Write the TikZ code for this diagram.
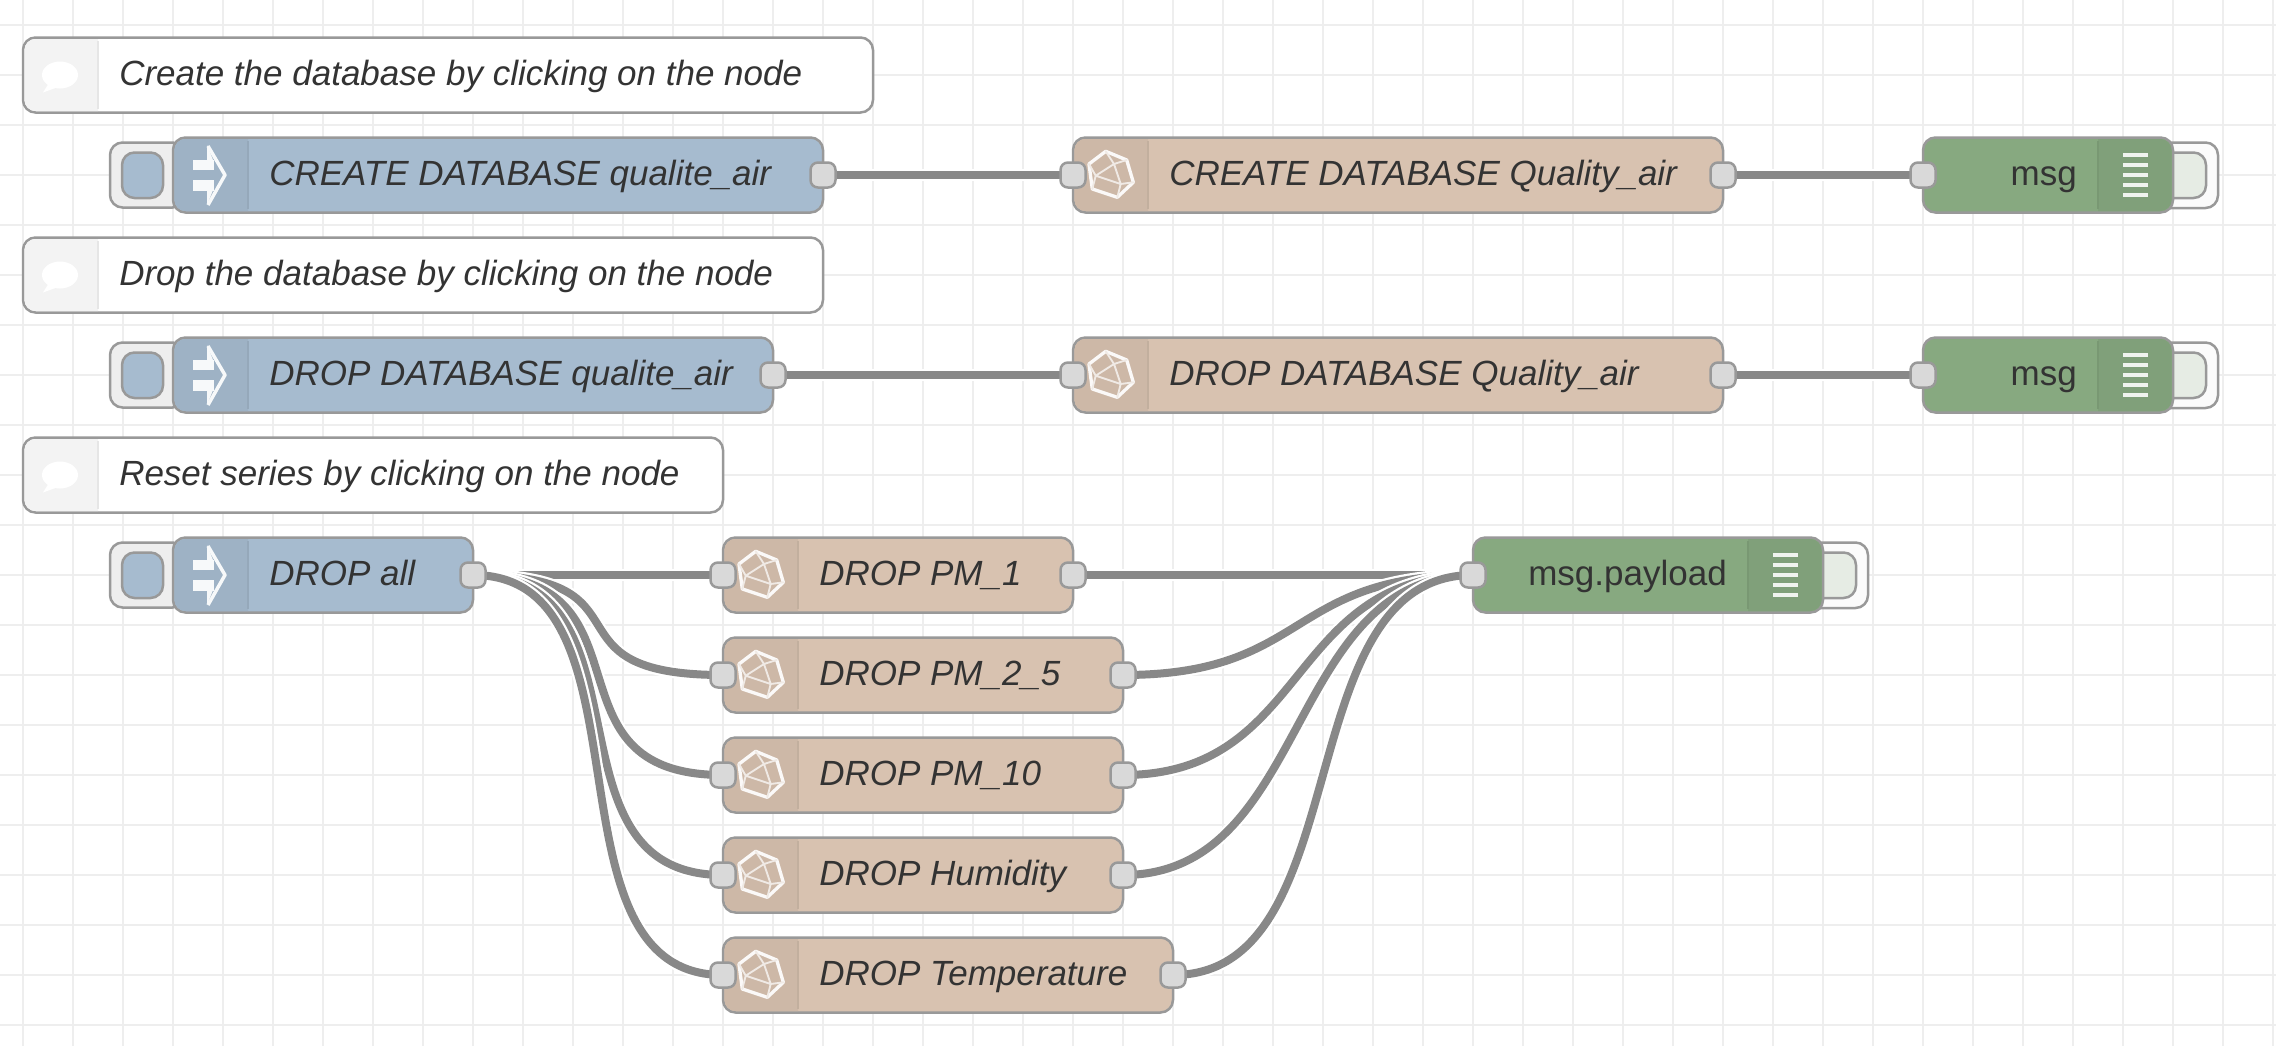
\documentclass[tikz,border=0pt]{standalone}
\usepackage{fontspec}
\setmainfont{Liberation Sans}
\pgfdeclarelayer{gridlayer}
\pgfdeclarelayer{wirelayer}
\pgfsetlayers{gridlayer,wirelayer,main}
\definecolor{gridc}{HTML}{EEEEEE}
\definecolor{edgec}{HTML}{999999}
\definecolor{wirec}{HTML}{888888}
\definecolor{portc}{HTML}{D9D9D9}
\definecolor{txtc}{HTML}{333333}
\definecolor{injc}{HTML}{A6BBCF}
\definecolor{injd}{HTML}{9EB2C5}
\definecolor{injs}{HTML}{95A8BA}
\definecolor{func}{HTML}{D8C2B0}
\definecolor{fund}{HTML}{CDB8A7}
\definecolor{funs}{HTML}{C2AF9E}
\definecolor{dbgc}{HTML}{87A980}
\definecolor{dbgd}{HTML}{80A07A}
\definecolor{dbgs}{HTML}{799873}
\definecolor{combg}{HTML}{F3F3F3}
\definecolor{coms}{HTML}{E6E6E6}
\definecolor{btnc}{HTML}{EEEEEE}
\definecolor{dbgout}{HTML}{FBFBFB}
\definecolor{dbgin}{HTML}{E6ECE4}
\tikzset{
  flowbody/.style={draw=edgec,line width=1.875pt,rounded corners=9.4pt,inner sep=0pt,minimum height=56.25pt},
  portbox/.style={draw=edgec,fill=portc,line width=1.875pt,rounded corners=5.6pt,inner sep=0pt,minimum size=18.75pt},
  lbl/.style={anchor=base west,inner sep=0pt,text=txtc,font=\fontsize{26.25}{30}\selectfont\itshape},
  lblr/.style={anchor=base east,inner sep=0pt,text=txtc,font=\fontsize{26.25}{30}\selectfont},
  btn/.style={draw=edgec,line width=1.875pt,rounded corners=9.4pt},
  wire/.style={draw=wirec,line width=6pt,preaction={draw=white,line width=9.375pt}},
  glyph/.style={draw=white!92!fund,line width=2.5pt,line join=round,line cap=round},
  gridline/.style={draw=gridc,line width=1.875pt}
}
% name, left, right, cy, fill
\newcommand\bodyshape[5]{%
  \pgfmathsetmacro\fnW{(#3-#2)*0.75}%
  \pgfmathsetmacro\fnC{(#3+#2)/2}%
  \node[flowbody,fill=#5,minimum width=\fnW pt] (#1) at (\fnC,#4) {};%
}
% left, sep, cy, fill, separator
\newcommand\iconleft[5]{%
  \fill[#4] (#2,#3-36) [rounded corners=8.4pt] -- (#1+1.5,#3-36) -- (#1+1.5,#3+36) [sharp corners] -- (#2,#3+36) -- cycle;%
  \draw[#5,line width=1.5pt] (#2,#3-34) -- (#2,#3+34);%
}
% name, left, right, cy, text
\newcommand\commentnode[5]{%
  \bodyshape{#1}{#2}{#3}{#4}{white}%
  \iconleft{#2}{#2+75}{#4}{combg}{coms}%
  \fill[white] (#2+37,#4) ellipse (18 and 13.5);%
  \fill[white] (#2+26,#4+8) -- (#2+20,#4+17.5) -- (#2+38,#4+11) -- cycle;%
  \node[lbl] (#1-t) at (#2+96,#4+10.5) {#5};%
}
% name, right, cy, text
\newcommand\injectnode[4]{%
  \draw[btn,fill=btnc] (185,#3-32.5) rectangle (110,#3+32.5);%
  \draw[btn,fill=injc] (122,#3-22.5) rectangle (163,#3+23);%
  \bodyshape{#1}{173}{#2}{#3}{injc}%
  \iconleft{173}{248}{#3}{injd}{injs}%
  \draw[white!92!injd,line width=2.6pt,line join=round] (208,#3-29) -- (225,#3) -- (208,#3+30);%
  \fill[white!92!injd] (207,#3-30) -- (213,#3-15) -- (207,#3-15) -- cycle;%
  \fill[white!92!injd] (207,#3+30) -- (213,#3+15) -- (207,#3+15) -- cycle;%
  \fill[white!92!injd] (193,#3-15.5) rectangle (214,#3-5);%
  \fill[white!92!injd] (193,#3+5) rectangle (214,#3+15.5);%
  \node[lbl] (#1-t) at (269,#3+10.5) {#4};%
  \node[portbox] (#1-out) at (#2,#3) {};%
}
% name, left, right, cy, text
\newcommand\functionnode[5]{%
  \bodyshape{#1}{#2}{#3}{#4}{func}%
  \iconleft{#2}{#2+75}{#4}{fund}{funs}%
  \begin{scope}[shift={(#2,#4)}]
    \draw[glyph] (32.7,-23.7) -- (53.7,-15) -- (60.3,7.3) -- (44.3,22.3) -- (19.3,14) -- (16,-11) -- cycle;
    \draw[glyph,line width=1.4pt,draw=white!70!fund] (32.7,-23.7) -- (41,-11) -- (22.7,0.7) -- (47.7,9) -- (41,-11) -- (53.7,-15)
      (47.7,9) -- (44.3,22.3) (47.7,9) -- (60.3,7.3) (22.7,0.7) -- (19.3,14) (22.7,0.7) -- (16,-11);
  \end{scope}
  \node[lbl] (#1-t) at (#2+96,#4+10.5) {#5};%
  \node[portbox] (#1-in) at (#2,#4) {};%
  \node[portbox] (#1-out) at (#3,#4) {};%
}
% name, left, right, cy, text
\newcommand\debugnode[5]{%
  \draw[btn,fill=dbgout] (#3-20,#4-32.5) rectangle (#3+45,#4+33);%
  \draw[btn,fill=dbgin] (#3-25,#4-22.5) rectangle (#3+33,#4+23);%
  \bodyshape{#1}{#2}{#3}{#4}{dbgc}%
  \fill[dbgd] (#3-75,#4-36) [rounded corners=8.4pt] -- (#3-1.5,#4-36) -- (#3-1.5,#4+36) [sharp corners] -- (#3-75,#4+36) -- cycle;%
  \draw[dbgs,line width=1.5pt] (#3-75,#4-34) -- (#3-75,#4+34);%
  \foreach \sy in {-20,-10,0,10,20}{\fill[white!88!dbgd] (#3-50,#4+\sy-2) rectangle (#3-25,#4+\sy+2);}%
  \node[lblr] (#1-t) at (#3-96,#4+10.5) {#5};%
  \node[portbox] (#1-in) at (#2,#4) {};%
}
\begin{document}
\begin{tikzpicture}[x=0.75pt,y=-0.75pt]
\useasboundingbox (0,0) rectangle (2276,1046);
\begin{pgfonlayer}{gridlayer}
  \fill[white] (0,0) rectangle (2276,1046);
  \foreach \gx in {23,73,...,2273}{\draw[gridline] (\gx,0) -- (\gx,1046);}
  \foreach \gy in {25,75,...,1025}{\draw[gridline] (0,\gy) -- (2276,\gy);}
\end{pgfonlayer}

\commentnode{c1}{23}{873}{75}{Create the database by clicking on the node}
\injectnode{i1}{823}{175}{CREATE DATABASE qualite\_air}
\functionnode{f1}{1073}{1723}{175}{CREATE DATABASE Quality\_air}
\debugnode{d1}{1923}{2173}{175}{msg}

\commentnode{c2}{23}{823}{275}{Drop the database by clicking on the node}
\injectnode{i2}{773}{375}{DROP DATABASE qualite\_air}
\functionnode{f2}{1073}{1723}{375}{DROP DATABASE Quality\_air}
\debugnode{d2}{1923}{2173}{375}{msg}

\commentnode{c3}{23}{723}{475}{Reset series by clicking on the node}
\injectnode{i3}{473}{575}{DROP all}
\functionnode{p1}{723}{1073}{575}{DROP PM\_1}
\functionnode{p2}{723}{1123}{675}{DROP PM\_2\_5}
\functionnode{p3}{723}{1123}{775}{DROP PM\_10}
\functionnode{p4}{723}{1123}{875}{DROP Humidity}
\functionnode{p5}{723}{1173}{975}{DROP Temperature}
\debugnode{d3}{1473}{1823}{575}{msg.payload}

\begin{pgfonlayer}{wirelayer}
  \draw[wire] (i1-out.center) -- (f1-in.center);
  \draw[wire] (f1-out.center) -- (d1-in.center);
  \draw[wire] (i2-out.center) -- (f2-in.center);
  \draw[wire] (f2-out.center) -- (d2-in.center);
  \foreach \k in {1,...,5}{
    \draw[wire] (i3-out.center) .. controls +(187.5,0) and +(-187.5,0) .. (p\k-in.center);
  }
  \foreach \k in {1,...,5}{
    \draw[wire] (p\k-out.center) .. controls +(187.5,0) and +(-187.5,0) .. (d3-in.center);
  }
\end{pgfonlayer}
\end{tikzpicture}
\end{document}
